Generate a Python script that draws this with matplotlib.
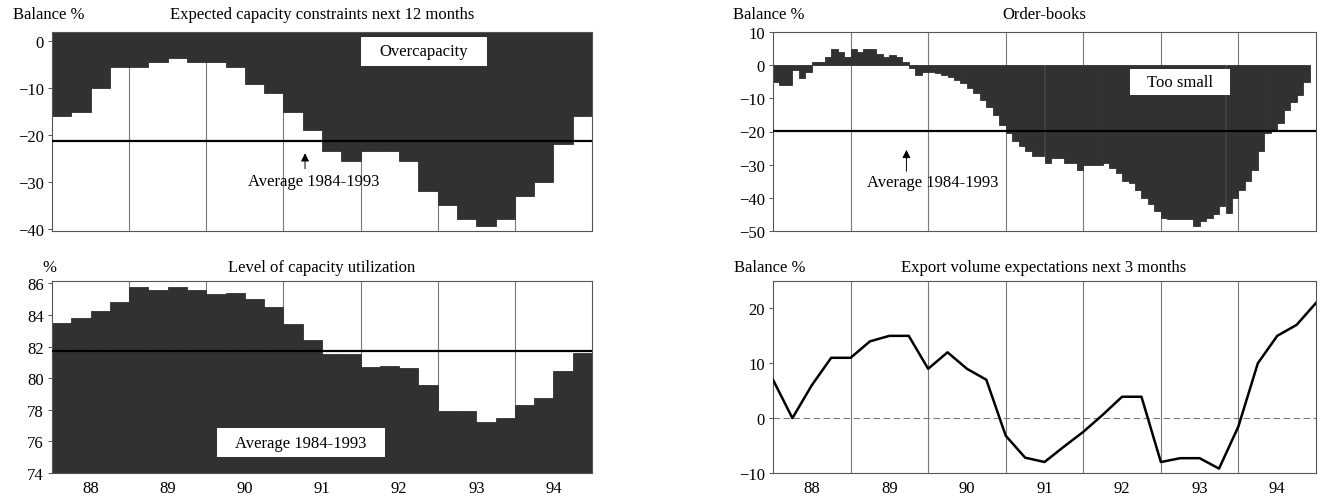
import numpy as np
import matplotlib
matplotlib.use("Agg")
import matplotlib.pyplot as plt
from matplotlib.patches import Rectangle

plt.rcParams['font.family'] = ['Liberation Serif', 'DejaVu Serif']
plt.rcParams['font.size'] = 12
plt.rcParams['axes.unicode_minus'] = True

# ---------------- data ----------------
year_labels = ['88', '89', '90', '91', '92', '93', '94']
first_year = 1988
n_years = 7

# quarterly, 1988Q1 .. 1994Q4
capacity_constraints = [-16, -15, -10, -5.5, -5.5, -4.5, -3.5, -4.5, -4.5, -5.5, -9, -11,
                        -15, -19, -23.5, -25.5, -23.5, -23.5, -25.5, -32, -35, -38, -39.5,
                        -38, -33, -30, -22, -16]
capacity_constraints_avg = -21.2

capacity_utilization = [83.5, 83.8, 84.25, 84.8, 85.8, 85.6, 85.75, 85.6, 85.3, 85.4, 85.0,
                        84.5, 83.4, 82.4, 81.55, 81.55, 80.7, 80.8, 80.65, 79.6, 77.95, 77.95,
                        77.2, 77.45, 78.3, 78.75, 80.45, 81.6]
capacity_utilization_avg = 81.7

# monthly, Jan 1988 .. Nov 1994
order_books = [-5, -6, -6, -1.5, -4, -2, 1, 1, 2.5, 5, 4, 2.5,
               5, 4, 5, 5, 3.5, 2.5, 3, 2.5, 1, -1, -3, -2,
               -2, -2.5, -3, -3.5, -4.5, -5.5, -7, -8.5, -10.5, -12.5, -15, -18,
               -20.5, -23, -24.5, -26, -27.5, -27.5, -29.5, -28, -28, -29.5, -29.5, -31.5,
               -30, -30, -30, -29.5, -31, -32.5, -35, -35.5, -37.5, -40, -42, -44,
               -46, -46.5, -46.5, -46.5, -46.5, -48.5, -47, -46, -45, -42.5, -44.5, -40,
               -37.5, -35, -31.5, -26, -20.5, -19.5, -17.5, -13.5, -11, -9, -5]
order_books_avg = -19.7

# quarterly observations at quarter boundaries 1988.0 .. 1995.0
export_expectations = [7, 0, 6, 11, 11, 14, 15, 15, 9, 12, 9, 7, -3.2, -7.2, -8, -5.2,
                       -2.5, 0.6, 3.9, 3.9, -8, -7.3, -7.3, -9.2, -1.5, 10, 15, 17, 21]

DARK = '#313131'
GRID = '#7a7a7a'
SPINE = '#555555'

quarter_x = first_year + (np.arange(len(capacity_constraints)) + 0.5) / 4
month_x = first_year + (np.arange(len(order_books)) + 0.5) / 12
export_x = first_year + np.arange(len(export_expectations)) / 4
year_mid = first_year + np.arange(n_years) + 0.5
year_bounds = first_year + np.arange(1, n_years)

W, H = 1322, 502
fig = plt.figure(figsize=(W / 100, H / 100), dpi=100)


def frac(x0, y0, x1, y1):
    return [x0 / W, 1 - y1 / H, (x1 - x0) / W, (y1 - y0) / H]


def style(ax, show_labels):
    ax.set_xlim(first_year, first_year + n_years)
    ax.set_xticks(year_mid)
    ax.set_xticks(year_bounds, minor=True)
    if show_labels:
        ax.set_xticklabels(year_labels)
    else:
        ax.set_xticklabels([])
    ax.tick_params(axis='x', which='both', length=0, pad=5)
    ax.tick_params(axis='y', length=3, width=0.7, color=SPINE, pad=3)
    ax.grid(True, which='minor', axis='x', color=GRID, lw=0.8)
    ax.set_axisbelow(True)
    for s in ax.spines.values():
        s.set_color(SPINE)
        s.set_linewidth(0.8)


bar_style = dict(color=DARK, edgecolor=DARK, linewidth=0.6, zorder=2)

ax_tl = fig.add_axes(frac(52, 33, 592, 232))
ax_bl = fig.add_axes(frac(52, 282, 592, 474))
ax_tr = fig.add_axes(frac(773, 33, 1316, 232))
ax_br = fig.add_axes(frac(773, 282, 1316, 474))

# ---- top-left: expected capacity constraints ----
tl_top = 2
style(ax_tl, False)
ax_tl.set_ylim(-40.5, tl_top)
ax_tl.set_yticks([0, -10, -20, -30, -40])
ax_tl.bar(quarter_x, [tl_top - v for v in capacity_constraints], bottom=capacity_constraints,
          width=0.25, **bar_style)
ax_tl.axhline(capacity_constraints_avg, color='black', lw=1.6, zorder=3)
ax_tl.add_patch(Rectangle((1992.0, -5.2), 1.64, 6.2, facecolor='white', edgecolor='none', zorder=4))
ax_tl.text(1992.82, -2.1, 'Overcapacity', ha='center', va='center', zorder=5)
ax_tl.annotate('', xy=(1991.28, -23.3), xytext=(1991.28, -27.8),
               arrowprops=dict(arrowstyle='-|>', color='black', lw=0.7, mutation_scale=12))
ax_tl.text(1991.39, -29.9, 'Average 1984-1993', ha='center', va='center')

# ---- bottom-left: capacity utilization ----
bl_bottom = 74
style(ax_bl, True)
ax_bl.set_ylim(bl_bottom, 86.15)
ax_bl.set_yticks([74, 76, 78, 80, 82, 84, 86])
ax_bl.bar(quarter_x, [v - bl_bottom for v in capacity_utilization], bottom=bl_bottom,
          width=0.25, **bar_style)
ax_bl.axhline(capacity_utilization_avg, color='black', lw=1.6, zorder=3)
ax_bl.add_patch(Rectangle((1990.14, 75.0), 2.18, 1.82, facecolor='white', edgecolor='none', zorder=4))
ax_bl.text(1991.23, 75.91, 'Average 1984-1993', ha='center', va='center', zorder=5)

# ---- top-right: order-books ----
style(ax_tr, False)
ax_tr.set_ylim(-50, 10)
ax_tr.set_yticks([10, 0, -10, -20, -30, -40, -50])
ax_tr.bar(month_x, order_books, width=1 / 12, **bar_style)
ax_tr.axhline(order_books_avg, color='black', lw=1.6, zorder=3)
ax_tr.add_patch(Rectangle((1992.6, -8.9), 1.29, 7.65, facecolor='white', edgecolor='none', zorder=4))
ax_tr.text(1993.25, -5.1, 'Too small', ha='center', va='center', zorder=5)
ax_tr.annotate('', xy=(1989.72, -24.7), xytext=(1989.72, -32.8),
               arrowprops=dict(arrowstyle='-|>', color='black', lw=0.7, mutation_scale=12))
ax_tr.text(1990.06, -35.2, 'Average 1984-1993', ha='center', va='center')

# ---- bottom-right: export volume expectations ----
style(ax_br, True)
ax_br.set_ylim(-10, 25)
ax_br.set_yticks([-10, 0, 10, 20])
ax_br.axhline(0, color=GRID, lw=0.8, ls=(0, (6, 3)), zorder=1)
ax_br.plot(export_x, export_expectations, color='black', lw=1.8, zorder=3)

# ---- titles and unit labels ----
fig.text(13 / W, 1 - 15 / H, 'Balance %', ha='left', va='center')
fig.text(322 / W, 1 - 15 / H, 'Expected capacity constraints next 12 months', ha='center', va='center')
fig.text(42 / W, 1 - 268 / H, '%', ha='left', va='center')
fig.text(322 / W, 1 - 268 / H, 'Level of capacity utilization', ha='center', va='center')
fig.text(733 / W, 1 - 15 / H, 'Balance %', ha='left', va='center')
fig.text(1044 / W, 1 - 15 / H, 'Order-books', ha='center', va='center')
fig.text(734 / W, 1 - 268 / H, 'Balance %', ha='left', va='center')
fig.text(1044 / W, 1 - 268 / H, 'Export volume expectations next 3 months', ha='center', va='center')

fig.savefig('out.png', dpi=100, facecolor='white')
